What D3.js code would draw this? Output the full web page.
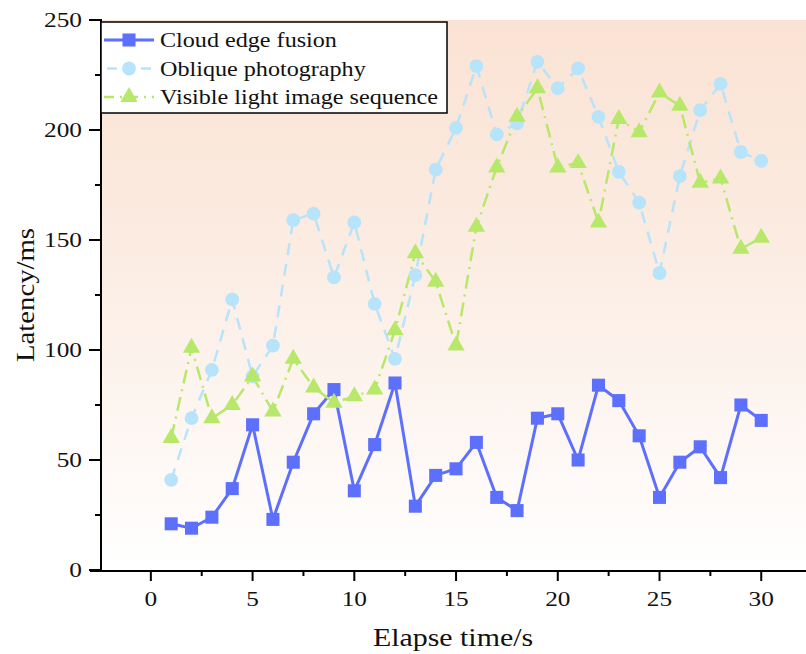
<!DOCTYPE html>
<html>
<head>
<meta charset="utf-8">
<script src="https://cdn.jsdelivr.net/npm/d3@7"></script>
<style>
  html, body { margin: 0; padding: 0; background: #fff; }
  svg text { font-family: "Liberation Serif", "Times New Roman", serif; fill: #111; }
</style>
</head>
<body>
<div id="chart"></div>
<script>
// Data
const times = d3.range(1, 31);
const cloudEdge = [21, 19, 24, 37, 66, 23, 49, 71, 82, 36, 57, 85, 29, 43, 46, 58, 33, 27, 69, 71, 50, 84, 77, 61, 33, 49, 56, 42, 75, 68];
const oblique = [41, 69, 91, 123, 88, 102, 159, 162, 133, 158, 121, 96, 134, 182, 201, 229, 198, 203, 231, 219, 228, 206, 181, 167, 135, 179, 209, 221, 190, 186];
const visible = [60, 101, 69, 75, 88, 72, 96, 83, 76, 79, 82, 109, 144, 131, 102, 156, 183, 206, 219, 183, 185, 158, 205, 199, 217, 211, 176, 178, 146, 151];
const xTicks = [0, 5, 10, 15, 20, 25, 30];
const yTicks = [0, 50, 100, 150, 200, 250];

const series = [
  { name: "Cloud edge fusion", values: cloudEdge, color: "#5d6ffd", width: 3, dash: null, symbol: d3.symbolSquare, size: 170 },
  { name: "Oblique photography", values: oblique, color: "#b7e3fb", width: 2.5, dash: "12,9", symbol: d3.symbolCircle, size: 150 },
  { name: "Visible light image sequence", values: visible, color: "#b8e86a", width: 2.5, dash: "14,6,2,6", symbol: d3.symbolTriangle, size: 130 }
];

const W = 806, H = 654;
const svg = d3.select("#chart").append("svg").attr("width", W).attr("height", H);

const x = d3.scaleLinear().domain([-2.45, 32.2]).range([101, 806]);
const y = d3.scaleLinear().domain([0, 250]).range([570, 20]);
const stretch = 1.15; // text in the reference is a bit wide

// background gradient
const grad = svg.append("defs").append("linearGradient")
  .attr("id", "bg").attr("x1", 0).attr("y1", 0).attr("x2", 0).attr("y2", 1);
grad.append("stop").attr("offset", "0%").attr("stop-color", "#fae3d4");
grad.append("stop").attr("offset", "35%").attr("stop-color", "#fbeadf");
grad.append("stop").attr("offset", "70%").attr("stop-color", "#fdf5f0");
grad.append("stop").attr("offset", "100%").attr("stop-color", "#ffffff");

svg.append("rect")
  .attr("x", x.range()[0]).attr("y", y(250))
  .attr("width", x.range()[1] - x.range()[0]).attr("height", y(0) - y(250))
  .attr("fill", "url(#bg)");

function stretchedText(g, tx, ty, txt, size, anchor, rotate) {
  return g.append("text")
    .attr("transform", `translate(${tx},${ty})` + (rotate ? ` rotate(${rotate})` : "") + ` scale(${stretch},1)`)
    .attr("text-anchor", anchor)
    .attr("font-size", size)
    .text(txt);
}

// lines and markers
series.forEach(s => {
  const pts = times.map((t, i) => [t, s.values[i]]);
  svg.append("path")
    .datum(pts)
    .attr("fill", "none")
    .attr("stroke", s.color)
    .attr("stroke-width", s.width)
    .attr("stroke-dasharray", s.dash)
    .attr("d", d3.line().x(d => x(d[0])).y(d => y(d[1])));
});
series.forEach(s => {
  const sym = d3.symbol().type(s.symbol).size(s.size);
  svg.append("g").selectAll("path")
    .data(times.map((t, i) => [t, s.values[i]]))
    .enter().append("path")
    .attr("transform", d => `translate(${x(d[0])},${y(d[1])})`)
    .attr("d", sym)
    .attr("fill", s.color);
});

// y axis
const ya = svg.append("g");
ya.append("line").attr("x1", 101).attr("x2", 101).attr("y1", y(250) - 1).attr("y2", y(0) + 1)
  .attr("stroke", "#000").attr("stroke-width", 2);
d3.range(0, 251, 25).forEach(v => {
  const major = v % 50 === 0;
  ya.append("line").attr("x1", 101).attr("x2", major ? 89 : 95)
    .attr("y1", y(v)).attr("y2", y(v)).attr("stroke", "#000").attr("stroke-width", 2);
});
yTicks.forEach(v => stretchedText(ya, 82, y(v) + 7, v, 22, "end"));
stretchedText(ya, 34, 295, "Latency/ms", 25, "middle", -90);

// x axis
const xa = svg.append("g");
xa.append("line").attr("x1", 90).attr("x2", 806).attr("y1", 571).attr("y2", 571)
  .attr("stroke", "#000").attr("stroke-width", 2);
d3.range(-2.5, 32.6, 2.5).filter(v => x(v) > 101 && x(v) < 805).forEach(v => {
  const major = v % 5 === 0;
  xa.append("line").attr("x1", x(v)).attr("x2", x(v))
    .attr("y1", 571).attr("y2", major ? 581 : 576).attr("stroke", "#000").attr("stroke-width", 2);
});
xTicks.forEach(v => stretchedText(xa, x(v), 606, v, 22, "middle"));
stretchedText(xa, 453, 646, "Elapse time/s", 26, "middle");

// legend
const lg = svg.append("g");
lg.append("rect").attr("x", 101).attr("y", 22).attr("width", 346).attr("height", 91)
  .attr("fill", "#fff").attr("stroke", "#000").attr("stroke-width", 1.5);
series.forEach((s, i) => {
  const ry = 40 + i * 28.5;
  lg.append("line").attr("x1", 104).attr("x2", 154).attr("y1", ry).attr("y2", ry)
    .attr("stroke", s.color).attr("stroke-width", s.width)
    .attr("stroke-dasharray", s.dash ? (i === 1 ? "10,7" : "10,6,2,6") : null)
    .attr("stroke-dashoffset", i === 1 ? -3 : 0);
  lg.append("path").attr("transform", `translate(129,${ry})`)
    .attr("d", d3.symbol().type(s.symbol).size(s.size)()).attr("fill", s.color);
  stretchedText(lg, 160, ry + 7, s.name, 21, "start");
});
</script>
</body>
</html>
